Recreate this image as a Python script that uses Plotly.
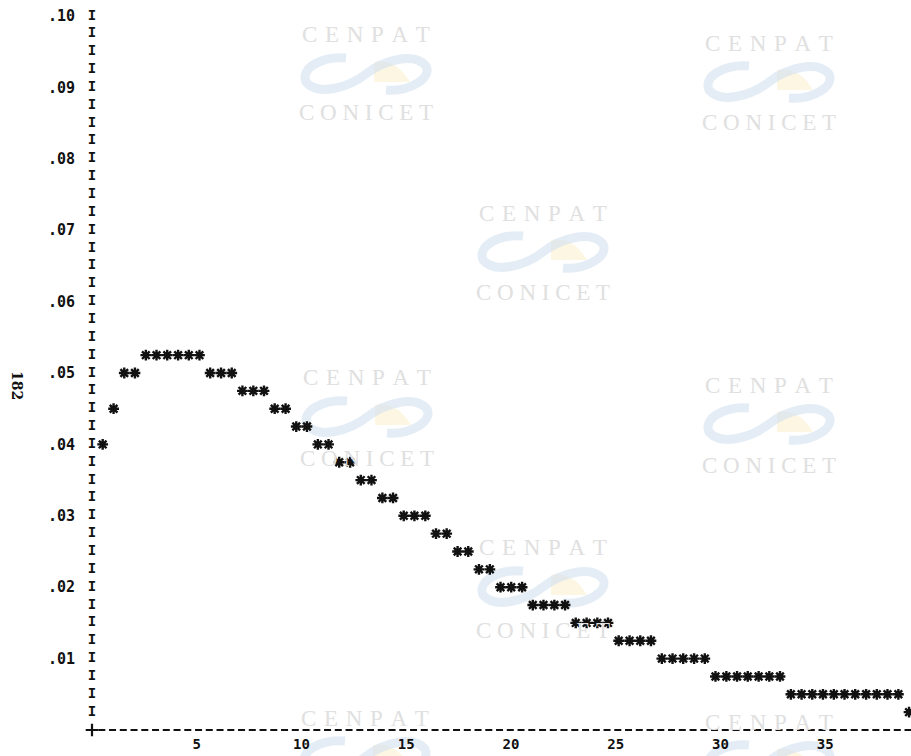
import plotly.graph_objects as go

# ---- data (one printed column per value) ----
x_vals = [0.51, 1.03, 1.54, 2.05, 2.57, 3.08, 3.59, 4.11, 4.62, 5.13,
          5.64, 6.16, 6.67, 7.18, 7.70, 8.21, 8.72, 9.24, 9.75, 10.26,
          10.78, 11.29, 11.80, 12.32, 12.83, 13.34, 13.86, 14.37, 14.88, 15.39,
          15.91, 16.42, 16.93, 17.45, 17.96, 18.47, 18.99, 19.50, 20.01, 20.53,
          21.04, 21.55, 22.07, 22.58, 23.09, 23.61, 24.12, 24.63, 25.14, 25.66,
          26.17, 26.68, 27.20, 27.71, 28.22, 28.74, 29.25, 29.76, 30.28, 30.79,
          31.30, 31.82, 32.33, 32.84, 33.36, 33.87, 34.38, 34.89, 35.41, 35.92,
          36.43, 36.95, 37.46, 37.97, 38.49, 39.00]
y_vals = [0.04, 0.045, 0.05, 0.05, 0.0525, 0.0525, 0.0525, 0.0525, 0.0525, 0.0525,
          0.05, 0.05, 0.05, 0.0475, 0.0475, 0.0475, 0.045, 0.045, 0.0425, 0.0425,
          0.04, 0.04, 0.0375, 0.0375, 0.035, 0.035, 0.0325, 0.0325, 0.03, 0.03,
          0.03, 0.0275, 0.0275, 0.025, 0.025, 0.0225, 0.0225, 0.02, 0.02, 0.02,
          0.0175, 0.0175, 0.0175, 0.0175, 0.015, 0.015, 0.015, 0.015, 0.0125, 0.0125,
          0.0125, 0.0125, 0.01, 0.01, 0.01, 0.01, 0.01, 0.0075, 0.0075, 0.0075,
          0.0075, 0.0075, 0.0075, 0.0075, 0.005, 0.005, 0.005, 0.005, 0.005, 0.005,
          0.005, 0.005, 0.005, 0.005, 0.005, 0.0025]

y_tick_vals = [0.01, 0.02, 0.03, 0.04, 0.05, 0.06, 0.07, 0.08, 0.09, 0.10]
y_tick_text = [".01", ".02", ".03", ".04", ".05", ".06", ".07", ".08", ".09", ".10"]
x_tick_vals = [5, 10, 15, 20, 25, 30, 35]
x_tick_text = ["5", "10", "15", "20", "25", "30", "35"]
row_step = 0.0025
page_label = "182"

# ---- layout geometry ----
W, H = 911, 756
ML, MB = 80, 22
PX_PER_X = 20.95     # pixels per x unit
PX_PER_Y = 7140.0    # pixels per y unit
X0_PX, Y0_PX = 92, 730
x_range = [(ML - X0_PX) / PX_PER_X, (W - X0_PX) / PX_PER_X]
y_range = [(Y0_PX - (H - MB)) / PX_PER_Y, Y0_PX / PX_PER_Y]

PLOT_W, PLOT_H = W - ML, H - MB


def pxp(px):
    return (px - ML) / PLOT_W


def pyp(py):
    return ((H - MB) - py) / PLOT_H


MONO = "DejaVu Sans Mono"
INK = "#111111"

fig = go.Figure()

# y-axis made of printed "I" characters
n_rows = int(round(max(y_tick_vals) / row_step))
axis_rows = [row_step * (i + 1) for i in range(n_rows)]
fig.add_trace(go.Scatter(
    x=[0] * len(axis_rows), y=axis_rows, mode="text", text=["I"] * len(axis_rows),
    textposition="middle center",
    textfont=dict(family=MONO, size=14, color=INK, weight="bold"),
    hoverinfo="skip", showlegend=False, cliponaxis=False))

# x-axis dashed printed line
fig.add_trace(go.Scatter(
    x=[0.3, x_range[1]], y=[0, 0], mode="lines",
    line=dict(color=INK, width=2.2, dash="7px,3.75px"),
    hoverinfo="skip", showlegend=False))
fig.add_trace(go.Scatter(
    x=[0], y=[0], mode="markers",
    marker=dict(symbol="cross-thin-open", size=9, color=INK,
                line=dict(color=INK, width=2.2)),
    hoverinfo="skip", showlegend=False, cliponaxis=False))

# data asterisks
fig.add_trace(go.Scatter(
    x=x_vals, y=y_vals, mode="markers",
    marker=dict(symbol="asterisk-open", size=9, color=INK,
                line=dict(color=INK, width=2.4)),
    showlegend=False, cliponaxis=False))

# ---- watermark (scanned archive stamp) ----
annotations = []
shapes = []
WM_TEXT = "rgb(224,224,224)"
SERIF = "Liberation Serif"
sp = "\u2004"
wm_centers = [(366, 35, 112), (769, 43, 122), (543, 213, 293), (367, 378, 458),
              (769, 385, 465), (543, 548, 630), (365, 718, None), (769, 722, None)]
for cx, ty, by in wm_centers:
    annotations.append(dict(x=pxp(cx), y=pyp(ty), xref="paper", yref="paper",
                            text=sp.join("CENPAT"), showarrow=False,
                            font=dict(family=SERIF, size=23, color=WM_TEXT),
                            xanchor="center", yanchor="middle"))
    if by is not None:
        annotations.append(dict(x=pxp(cx), y=pyp(by), xref="paper", yref="paper",
                                text="\u2005".join("CONICET"), showarrow=False,
                                font=dict(family=SERIF, size=23, color=WM_TEXT),
                                xanchor="center", yanchor="middle"))
    ly = ty + 39
    # sun fan
    shapes.append(dict(type="path", xref="paper", yref="paper",
                       xsizemode="pixel", ysizemode="pixel",
                       xanchor=pxp(cx), yanchor=pyp(ly), layer="below",
                       path="M 8,-8 L 8,12 Q 30,16 44,-8 Z",
                       fillcolor="rgba(250,238,200,0.5)", line=dict(width=0)))
    # ribbon
    shapes.append(dict(type="path", xref="paper", yref="paper",
                       xsizemode="pixel", ysizemode="pixel",
                       xanchor=pxp(cx), yanchor=pyp(ly), layer="below",
                       path=("M 0,0 C 18,14 48,22 60,8 C 66,-4 44,-18 20,-16 "
                             "M 0,0 C -18,-14 -48,-22 -60,-8 C -66,6 -44,18 -20,16"),
                       line=dict(color="rgba(210,225,240,0.6)", width=9)))

# rotated page number
annotations.append(dict(x=pxp(17), y=pyp(385), xref="paper", yref="paper",
                        text=page_label, showarrow=False, textangle=90,
                        font=dict(family="DejaVu Serif", size=14, color=INK, weight="bold"),
                        xanchor="center", yanchor="middle"))

fig.update_layout(
    width=W, height=H,
    margin=dict(l=ML, r=0, t=0, b=MB, pad=0, autoexpand=False),
    paper_bgcolor="white", plot_bgcolor="white",
    showlegend=False, hovermode=False,
    annotations=annotations, shapes=shapes,
    xaxis=dict(range=x_range, showgrid=False, zeroline=False, showline=False,
               automargin=False, fixedrange=True,
               tickmode="array", tickvals=x_tick_vals, ticktext=x_tick_text,
               ticks="", ticklabelstandoff=0,
               tickfont=dict(family=MONO, size=14, color=INK, weight="bold")),
    yaxis=dict(range=y_range, showgrid=False, zeroline=False, showline=False,
               automargin=False, fixedrange=True,
               tickmode="array", tickvals=y_tick_vals, ticktext=y_tick_text,
               ticks="", ticklabelstandoff=4,
               tickfont=dict(family=MONO, size=15, color=INK, weight="bold")),
)

fig.write_html("out.html", config={"displayModeBar": False},
               post_script="document.body.style.margin='0';document.body.style.overflow='hidden';")
